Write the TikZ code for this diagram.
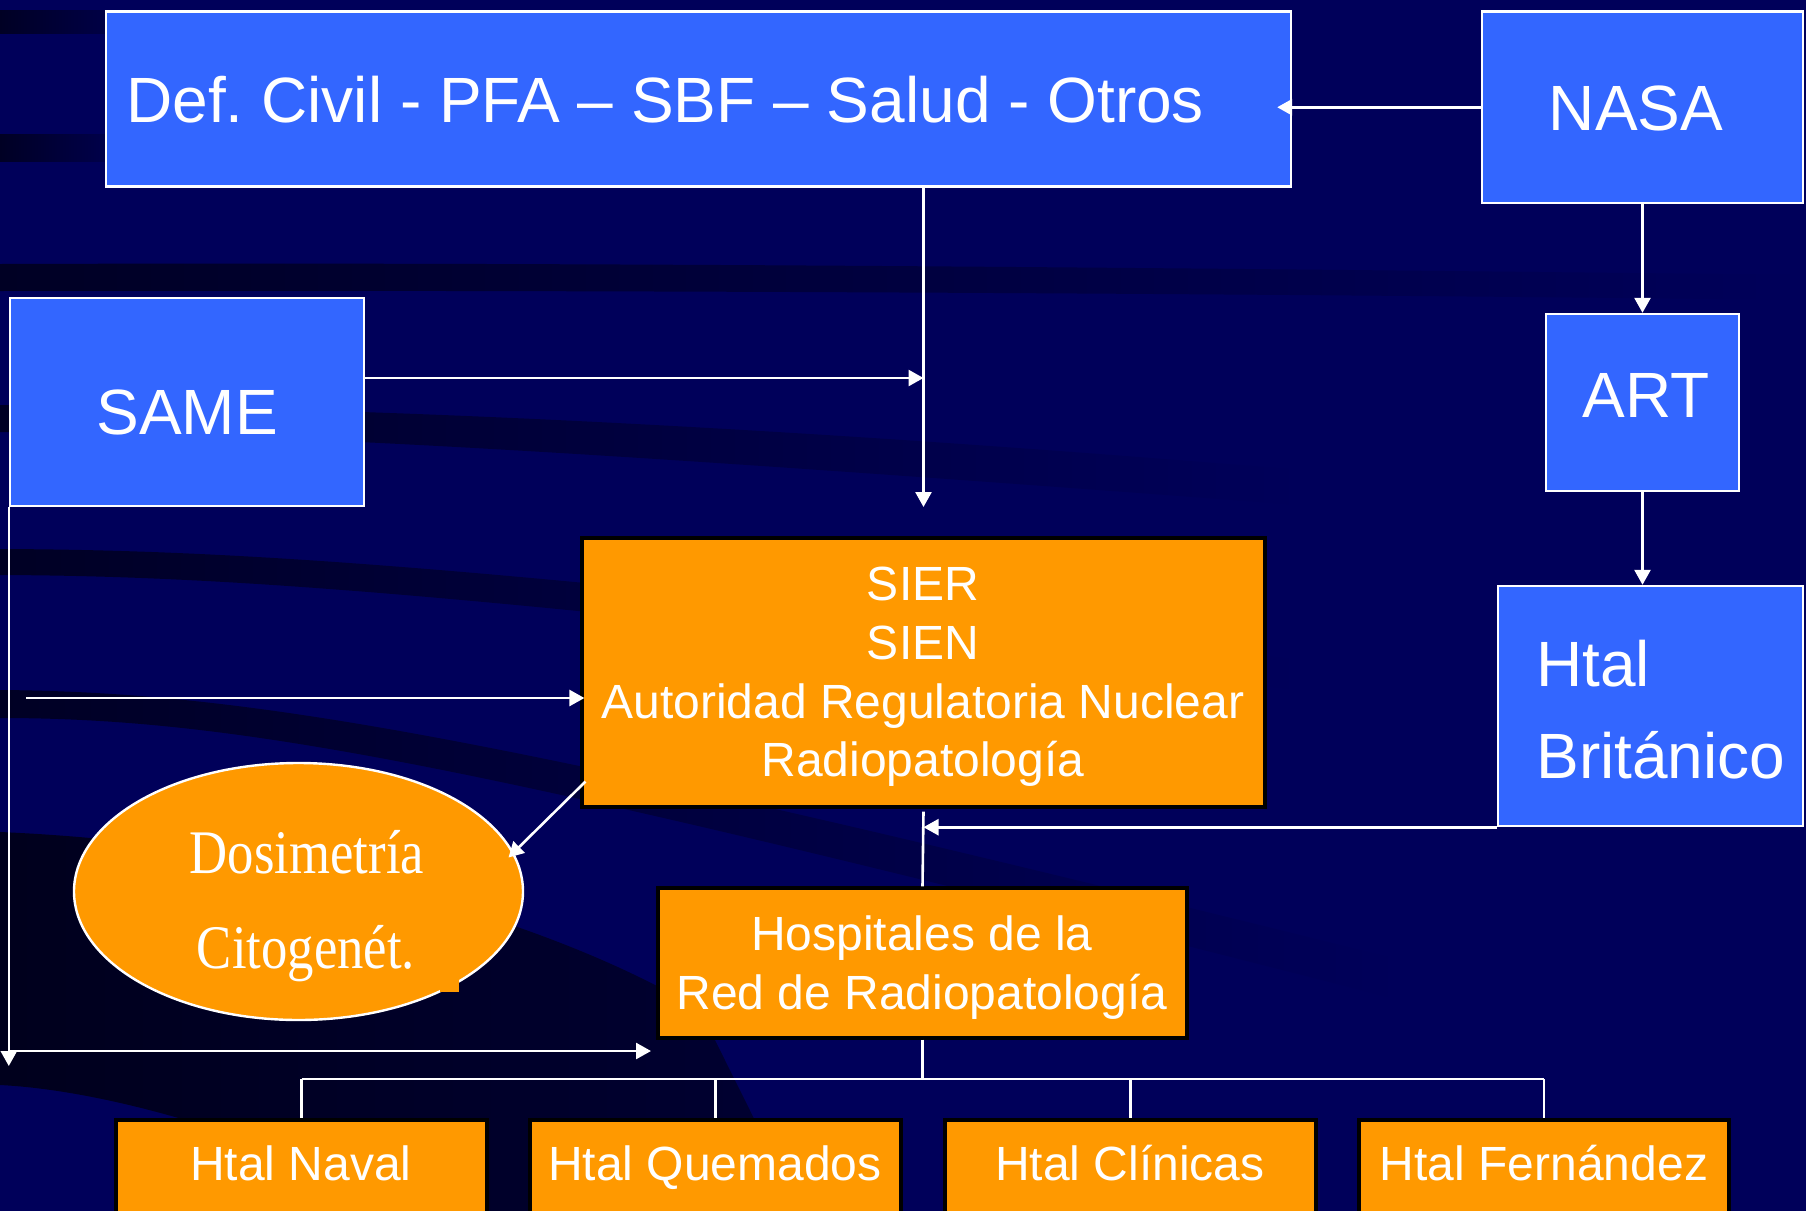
\documentclass[tikz,border=0pt]{standalone}
\usepackage{fontspec}
\setmainfont{Liberation Sans}
\newfontfamily\dosifont[FakeStretch=0.85]{Liberation Serif}
\usetikzlibrary{arrows.meta,shapes.geometric,fit,calc}
\definecolor{bgnavy}{RGB}{0,0,90}
\definecolor{bgdark}{RGB}{0,0,36}
\definecolor{boxblue}{RGB}{51,102,255}
\definecolor{boxorange}{RGB}{255,153,0}
\frenchspacing
\begin{document}
\begin{tikzpicture}[x=0.5pt,y=-0.5pt,
  bluebox/.style={draw=white,line width=1.2pt,fill=boxblue,inner sep=0pt},
  orangebox/.style={draw=black,line width=1.6pt,fill=boxorange,inner sep=0pt},
  conn/.style={draw=white,line width=1.3pt},
  arr/.style={conn,-{Triangle[length=7.5pt,width=8pt]}},
  big/.style={text=white,inner sep=0pt,anchor=base,font=\fontsize{32}{38}\selectfont},
  mid/.style={text=white,inner sep=0pt,anchor=base,font=\fontsize{24}{29}\selectfont},
  dosi/.style={text=white,inner sep=0pt,anchor=base,font=\dosifont\fontsize{31}{37}\selectfont},
  band/.style={left color=bgdark,right color=bgnavy,draw=none}
]
\useasboundingbox (0,0) rectangle (1806,1211);
\fill[bgnavy] (0,0) rectangle (1806,1211);
% background bands
\path[band] (0,10) rectangle (170,33);
\path[band] (0,134) rectangle (150,161);
\path[band] (0,264) .. controls (600,262) and (1200,268) .. (1806,275) -- (1806,300) .. controls (1200,293) and (600,290) .. (0,291) -- cycle;
\path[band] (0,405) .. controls (300,406) and (700,420) .. (1300,470) -- (1300,505) .. controls (700,460) and (300,432) .. (0,432) -- cycle;
\path[band] (0,549) .. controls (250,550) and (500,568) .. (1300,660) -- (1300,690) .. controls (500,598) and (250,576) .. (0,575) -- cycle;
\path[band] (0,690) .. controls (250,692) and (500,735) .. (1400,960) -- (1400,1000) .. controls (500,770) and (250,718) .. (0,718) -- cycle;
\path[left color=bgdark!80!black,right color=bgdark!75!bgnavy] (0,832) .. controls (300,845) and (560,925) .. (700,1010) -- (800,1211) -- (420,1211) .. controls (250,1130) and (100,1090) .. (0,1085) -- cycle;

% boxes
\node[bluebox,fit={(106,11.5) (1291,186.5)}] (def) {};
\node[bluebox,fit={(1482,11.5) (1803,203)}] (nasa) {};
\node[bluebox,fit={(1546,314) (1739,491)}] (art) {};
\node[bluebox,fit={(1498,586) (1803,826)}] (brit) {};
\node[bluebox,fit={(10,298) (364,506)}] (same) {};
\node[orangebox,fit={(582,538) (1265,807)}] (sier) {};
\node[draw=white,line width=1.2pt,fill=boxorange,ellipse,minimum width=224.5pt,minimum height=128.5pt,inner sep=0pt] (dosi) at (298.5,891.5) {};
\fill[boxorange] (440,975) rectangle (459,992);
\node[orangebox,fit={(658,888) (1187,1038)}] (hosp) {};
\node[orangebox,fit={(116,1120) (487,1222)}] (naval) {};
\node[orangebox,fit={(530,1120) (901,1222)}] (quem) {};
\node[orangebox,fit={(945,1120) (1316,1222)}] (clin) {};
\node[orangebox,fit={(1359,1120) (1729,1222)}] (fern) {};

% texts
\node[big,anchor=base west] (deft) at (126,122) {Def. Civil - PFA – SBF – Salud - Otros};
\node[big] (nasat) at (1636,130) {NASA};
\node[big] (artt) at (1646,417) {ART};
\node[big,anchor=base west] (britt1) at (1536,686) {Htal};
\node[big,anchor=base west] (britt2) at (1536,778) {Británico};
\node[big] (samet) at (187,434) {SAME};
\node[mid] (sier1) at (923,600) {SIER};
\node[mid] (sier2) at (923,659) {SIEN};
\node[mid] (sier3) at (923,718) {Autoridad Regulatoria Nuclear};
\node[mid] (sier4) at (923,776) {Radiopatología};
\node[dosi] (dosit1) at (307,873) {Dosimetría};
\node[dosi] (dosit2) at (306,968) {Citogenét.};
\node[mid] (hospt1) at (922,950) {Hospitales de la};
\node[mid] (hospt2) at (922,1009) {Red de Radiopatología};
\node[mid] (navalt) at (301,1180) {Htal Naval};
\node[mid] (quemt) at (715,1180) {Htal Quemados};
\node[mid] (clint) at (1130,1180) {Htal Clínicas};
\node[mid] (fernt) at (1544,1180) {Htal Fernández};

% connectors
\draw[arr] (nasa.west) -- ($(def.east |- nasa.west)+(-15,0)$);
\coordinate (jn) at (sier.north |- 0,507);
\draw[arr] (sier.north |- def.south) -- (jn);
\coordinate (sameout) at (same.east |- 0,378);
\draw[arr] (sameout) -- (jn |- sameout);
\draw[arr] (nasa.south) -- (art.north);
\draw[arr] (art.south) -- (art.south |- brit.north);
\coordinate (leftin) at (26,698);
\draw[arr] (leftin) -- ($(sier.west |- leftin)+(4,0)$);
\coordinate (downend) at (same.south west |- 0,1066);
\draw[arr] (same.south west) -- (downend);
\coordinate (hstart) at (same.south west |- 0,1051);
\coordinate (hend) at (651,1051);
\draw[arr] (hstart) -- (hend);
\draw[arr] ($(sier.south west)+(5,-27)$) -- ($(dosi.center)+(210,-34)$);
\draw[conn] ($(sier.south)+(0,3)$) -- (hosp.north);
\draw[arr] (brit.south west) -- (sier.south |- brit.south west);
\coordinate (tr) at (hosp.south |- 0,1079);
\draw[conn] (hosp.south) -- (tr);
\draw[conn] (naval.north |- tr) -- (fern.north |- tr);
\draw[conn] (naval.north |- tr) -- (naval.north);
\draw[conn] (quem.north |- tr) -- (quem.north);
\draw[conn] (clin.north |- tr) -- (clin.north);
\draw[conn] (fern.north |- tr) -- (fern.north);
\end{tikzpicture}
\end{document}
